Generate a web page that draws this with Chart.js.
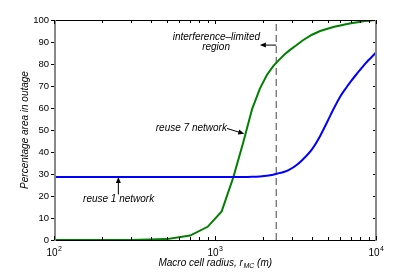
<!DOCTYPE html>
<html>
<head>
<meta charset="utf-8">
<script src="https://cdn.jsdelivr.net/npm/chart.js@4"></script>
<style>
  html, body { margin: 0; padding: 0; background: #fff; }
  canvas { display: block; }
</style>
</head>
<body>
<canvas id="myChart" width="415" height="275"></canvas>
<script>
// macro cell radius (m)
const radius = [100, 300, 500, 700, 900, 1100, 1300, 1500, 1700, 1900, 2100, 2300, 2500, 2700, 2900,
    3200, 3500, 4000, 4500, 5000, 5500, 6000, 6500, 7000, 7500, 8000, 8500, 9000, 9500, 10000];
// percentage area in outage
const reuse1 = [28.6, 28.6, 28.6, 28.6, 28.6, 28.6, 28.6, 28.6, 28.7, 28.9, 29.2, 29.7, 30.4, 31.0, 32.0,
    34.0, 36.5, 41.2, 47.3, 54.0, 60.1, 65.2, 69.0, 72.2, 75.0, 77.5, 79.8, 81.8, 83.5, 85.2];
const reuse7 = [0, 0, 0.4, 2.0, 6.0, 13.0, 28.5, 44.5, 59.5, 68.8, 75.0, 79.0, 81.9, 84.3, 86.2,
    88.5, 90.7, 93.3, 95.0, 96.0, 96.9, 97.5, 98.1, 98.5, 98.9, 99.2, 99.5, 99.7, 99.9, 100];
const boundary = 2400; // interference-limited region edge

const xTicks = [100, 1000, 10000];
const xTickExp = ['2', '3', '4'];
const xMinorTicks = [200, 300, 400, 500, 600, 700, 800, 900, 2000, 3000, 4000, 5000, 6000, 7000, 8000, 9000];
const yTicks = [0, 10, 20, 30, 40, 50, 60, 70, 80, 90, 100];

const FONT = "'Liberation Sans', Arial, Helvetica, sans-serif";
Chart.defaults.font.family = FONT;
Chart.defaults.color = '#000';

function arrow(c, x1, y1, x2, y2) {
    const a = Math.atan2(y2 - y1, x2 - x1);
    const len = 6, w = 2.5;
    c.beginPath();
    c.moveTo(x1, y1);
    c.lineTo(x2 - Math.cos(a) * len * 0.8, y2 - Math.sin(a) * len * 0.8);
    c.stroke();
    c.beginPath();
    c.moveTo(x2, y2);
    c.lineTo(x2 - Math.cos(a) * len + Math.sin(a) * w, y2 - Math.sin(a) * len - Math.cos(a) * w);
    c.lineTo(x2 - Math.cos(a) * len - Math.sin(a) * w, y2 - Math.sin(a) * len + Math.cos(a) * w);
    c.closePath();
    c.fill();
}

const decorations = {
    id: 'decorations',
    afterDraw(chart) {
        const c = chart.ctx;
        const { left, right, top, bottom } = chart.chartArea;
        const xs = chart.scales.x, ys = chart.scales.y;
        c.save();

        // box
        c.strokeStyle = '#000';
        c.lineWidth = 1;
        c.beginPath();
        c.moveTo(left, top + 0.5); c.lineTo(right, top + 0.5);
        c.moveTo(left, bottom + 0.5); c.lineTo(right, bottom + 0.5);
        c.stroke();
        c.strokeStyle = '#888';
        c.lineWidth = 2;
        c.beginPath();
        c.moveTo(left + 1, top); c.lineTo(left + 1, bottom + 1);
        c.moveTo(right, top); c.lineTo(right, bottom + 1);
        c.stroke();

        // ticks
        c.strokeStyle = '#000';
        c.lineWidth = 1;
        c.beginPath();
        yTicks.forEach(v => {
            const y = Math.round(ys.getPixelForValue(v)) + 0.5;
            c.moveTo(left - 3, y); c.lineTo(left, y);
            c.moveTo(right - 3, y); c.lineTo(right - 1, y);
        });
        xMinorTicks.forEach(v => {
            const x = Math.round(xs.getPixelForValue(v)) + 0.5;
            c.moveTo(x, top); c.lineTo(x, top + 3);
            c.moveTo(x, bottom); c.lineTo(x, bottom - 3);
        });
        xTicks.forEach(v => {
            const x = Math.round(xs.getPixelForValue(v)) + 0.5;
            c.moveTo(x, top); c.lineTo(x, top + 4);
            c.moveTo(x, bottom); c.lineTo(x, bottom - 4);
        });
        c.stroke();

        // x tick labels: 10 with superscript exponent
        c.fillStyle = '#000';
        c.textBaseline = 'alphabetic';
        c.textAlign = 'left';
        xTicks.forEach((v, i) => {
            const x = xs.getPixelForValue(v);
            c.font = '10px ' + FONT;
            const wb = c.measureText('10').width;
            c.font = '7px ' + FONT;
            const we = c.measureText(xTickExp[i]).width;
            const x0 = x - (wb + we) / 2;
            c.font = '10px ' + FONT;
            c.fillText('10', x0, 256);
            c.font = '7px ' + FONT;
            c.fillText(xTickExp[i], x0 + wb + 0.5, 251);
        });

        // annotations
        c.font = 'italic 10px ' + FONT;
        c.textAlign = 'center';
        c.textBaseline = 'middle';
        const px = v => xs.getPixelForValue(v), py = v => ys.getPixelForValue(v);
        c.fillText('interference–limited', px(1020), py(92.3));
        c.fillText('region', px(1015), py(87.6));
        arrow(c, px(boundary), py(88.6), px(1900), py(88.6));
        c.fillText('reuse 7 network', px(713), py(50.8));
        arrow(c, px(1187), py(50.7), px(1520), py(48.3));
        c.fillText('reuse 1 network', px(252), py(18.4));
        arrow(c, px(251), py(20.7), px(251), py(28.6));

        // axis titles
        c.save();
        c.translate(25, (top + bottom) / 2);
        c.rotate(-Math.PI / 2);
        c.fillText('Percentage area in outage', 0, 0);
        c.restore();

        const main = 'Macro cell radius, r', sub = 'MC', tail = ' (m)';
        c.font = 'italic 10px ' + FONT;
        const w1 = c.measureText(main).width, w3 = c.measureText(tail).width;
        c.font = 'italic 7px ' + FONT;
        const w2 = c.measureText(sub).width;
        let x0 = (left + right) / 2 - (w1 + w2 + w3) / 2;
        const yT = 263;
        c.textAlign = 'left';
        c.font = 'italic 10px ' + FONT;
        c.fillText(main, x0, yT);
        c.font = 'italic 7px ' + FONT;
        c.fillText(sub, x0 + w1 + 0.5, yT + 3);
        c.font = 'italic 10px ' + FONT;
        c.fillText(tail, x0 + w1 + w2 + 0.5, yT);
        c.restore();
    }
};

const ctx = document.getElementById('myChart');

new Chart(ctx, {
    type: 'line',
    data: {
        datasets: [
            {
                label: 'reuse 1 network',
                data: radius.map((r, i) => ({ x: r, y: reuse1[i] })),
                borderColor: '#0000ff',
                borderWidth: 2,
                pointRadius: 0,
                cubicInterpolationMode: 'monotone'
            },
            {
                label: 'reuse 7 network',
                data: radius.map((r, i) => ({ x: r, y: reuse7[i] })),
                borderColor: '#008000',
                borderWidth: 2,
                pointRadius: 0,
                tension: 0
            },
            {
                label: 'boundary',
                data: [{ x: boundary, y: 0 }, { x: boundary, y: 100 }],
                borderColor: '#444',
                borderWidth: 1,
                borderDash: [7, 4],
                pointRadius: 0
            }
        ]
    },
    options: {
        responsive: false,
        animation: false,
        layout: { padding: { left: 0, right: 39, top: 20, bottom: 0 } },
        plugins: {
            legend: { display: false },
            tooltip: { enabled: false }
        },
        scales: {
            x: {
                type: 'logarithmic',
                min: 100,
                max: 10000,
                grid: { display: false, drawTicks: false },
                border: { display: false },
                afterBuildTicks: s => { s.ticks = xTicks.map(v => ({ value: v })); },
                afterFit: s => { s.height = 35; },
                ticks: { display: false }
            },
            y: {
                min: 0,
                max: 100,
                grid: { display: false, drawTicks: false },
                border: { display: false },
                afterBuildTicks: s => { s.ticks = yTicks.map(v => ({ value: v })); },
                afterFit: s => { s.width = 54; },
                ticks: {
                    padding: 5,
                    font: { size: 9.5 }
                }
            }
        }
    },
    plugins: [decorations]
});
</script>
</body>
</html>
